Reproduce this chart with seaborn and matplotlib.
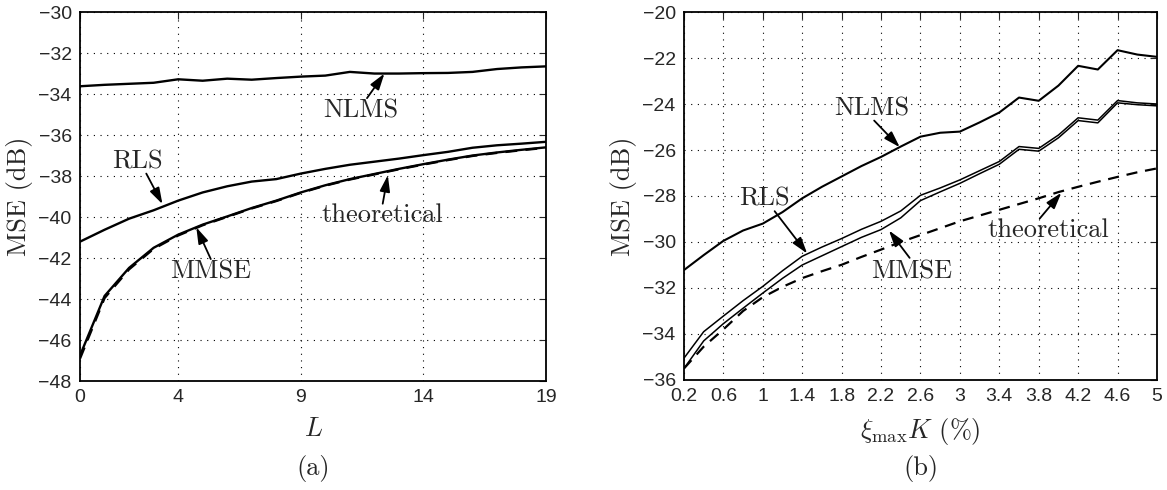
import matplotlib.pyplot as plt
import pandas as pd
import seaborn as sns

# Panel (a): MSE versus L
L_VALUES = [0, 1, 2, 3, 4, 5, 6, 7, 8, 9, 10, 11, 12, 13, 14, 15, 16, 17, 18, 19]
NLMS_A = [-33.62, -33.55, -33.5, -33.45, -33.28, -33.35, -33.25, -33.3, -33.22, -33.15,
          -33.1, -32.92, -33.0, -33.0, -32.98, -32.97, -32.92, -32.78, -32.7, -32.65]
RLS_A = [-41.2, -40.62, -40.08, -39.67, -39.2, -38.8, -38.5, -38.27, -38.15, -37.88,
         -37.65, -37.45, -37.3, -37.15, -36.98, -36.82, -36.62, -36.5, -36.42, -36.33]
MMSE_A = [-46.75, -43.85, -42.48, -41.5, -40.86, -40.37, -39.97, -39.56, -39.2, -38.8,
          -38.45, -38.15, -37.9, -37.65, -37.42, -37.2, -37.0, -36.85, -36.72, -36.6]
THEORY_A = [-46.9, -43.95, -42.55, -41.55, -40.9, -40.4, -39.99, -39.58, -39.22, -38.82,
            -38.47, -38.17, -37.92, -37.67, -37.44, -37.22, -37.02, -36.87, -36.74, -36.62]

# Panel (b): MSE versus xi_max K (%)
XI_VALUES = [0.2, 0.4, 0.6, 0.8, 1.0, 1.2, 1.4, 1.6, 1.8, 2.0, 2.2, 2.4, 2.6,
             2.8, 3.0, 3.2, 3.4, 3.6, 3.8, 4.0, 4.2, 4.4, 4.6, 4.8, 5.0]
NLMS_B = [-31.22, -30.57, -29.95, -29.5, -29.2, -28.7, -28.1, -27.6, -27.15, -26.7,
          -26.3, -25.85, -25.42, -25.25, -25.2, -24.8, -24.37, -23.72, -23.86, -23.2,
          -22.34, -22.5, -21.66, -21.85, -21.95]
RLS_B = [-35.05, -33.9, -33.22, -32.55, -31.93, -31.25, -30.62, -30.22, -29.85, -29.45,
         -29.1, -28.65, -27.97, -27.65, -27.3, -26.9, -26.5, -25.85, -25.93, -25.35,
         -24.6, -24.7, -23.85, -23.95, -24.0]
MMSE_B = [-35.5, -34.3, -33.55, -32.88, -32.22, -31.58, -31.0, -30.6, -30.2, -29.8,
          -29.46, -28.95, -28.2, -27.82, -27.45, -27.03, -26.62, -25.97, -26.05, -25.47,
          -24.72, -24.82, -23.95, -24.03, -24.08]
THEORY_B = [-35.5, -34.55, -33.8, -33.0, -32.4, -31.95, -31.57, -31.27, -30.99, -30.65,
            -30.33, -30.0, -29.7, -29.4, -29.1, -28.85, -28.6, -28.35, -28.1, -27.83,
            -27.6, -27.38, -27.17, -26.97, -26.8]

LEFT_XTICKS = [0, 4, 9, 14, 19]
LEFT_YTICKS = [-48, -46, -44, -42, -40, -38, -36, -34, -32, -30]
RIGHT_XTICKS = [0.2, 0.6, 1.0, 1.4, 1.8, 2.2, 2.6, 3.0, 3.4, 3.8, 4.2, 4.6, 5.0]
RIGHT_YTICKS = [-36, -34, -32, -30, -28, -26, -24, -22, -20]

# (label, text position, arrow start, arrow tip)
LEFT_NOTES = [
    ("NLMS", (11.46, -34.79), (11.7, -34.2), (12.41, -33.0)),
    ("RLS", (2.34, -37.31), (2.7, -37.88), (3.36, -39.37)),
    ("MMSE", (5.33, -42.67), (5.33, -42.05), (4.74, -40.5)),
    ("theoretical", (12.34, -39.91), (12.34, -39.35), (12.55, -37.96)),
]
RIGHT_NOTES = [
    ("NLMS", (2.11, -24.22), (2.13, -24.72), (2.39, -25.88)),
    ("RLS", (1.02, -28.12), (1.12, -28.66), (1.45, -30.5)),
    ("MMSE", (2.51, -31.29), (2.49, -30.69), (2.28, -29.5)),
    ("theoretical", (3.90, -29.49), (3.81, -28.98), (4.03, -27.86)),
]

SERIF = "cmr10"


def long_frame(x, series):
    records = []
    for method, values in series.items():
        records.extend(
            {"x": xv, "MSE": yv, "Method": method} for xv, yv in zip(x, values, strict=True)
        )
    return pd.DataFrame(records)


def draw_panel(ax, data, widths):
    for method, subset in data.groupby("Method", sort=False):
        style = (0, (5, 3.5)) if method == "theoretical" else "-"
        sns.lineplot(
            data=subset,
            x="x",
            y="MSE",
            color="black",
            linewidth=widths[method],
            linestyle=style,
            ax=ax,
        )


def decorate(ax, xticks, yticks, xlabel, notes):
    ax.set_xlim(xticks[0], xticks[-1])
    ax.set_ylim(yticks[0], yticks[-1])
    ax.set_xticks(xticks, [f"{t:g}" for t in xticks])
    ax.set_yticks(yticks)
    ax.grid(True, color="black", linestyle=(0, (1, 5)), linewidth=0.8)
    ax.tick_params(direction="in", top=True, right=True, length=5, width=0.8,
                   labelsize=14, pad=6)
    for spine in ax.spines.values():
        spine.set_visible(True)
        spine.set_linewidth(1.3)
        spine.set_color("black")
    ax.set_xlabel(xlabel, fontsize=19, family=SERIF, labelpad=8)
    ax.set_ylabel("MSE (dB)", fontsize=19, family=SERIF, labelpad=4)
    for text, pos, start, tip in notes:
        ax.text(*pos, text, fontsize=19, family=SERIF, ha="center", va="center")
        ax.annotate(
            "",
            xy=tip,
            xytext=start,
            arrowprops=dict(arrowstyle="-|>,head_length=0.7,head_width=0.22",
                            color="black", lw=1.3, shrinkA=0, shrinkB=0,
                            mutation_scale=14),
        )


def main():
    sns.set_style("white")
    plt.rcParams["font.family"] = ["Liberation Sans", "DejaVu Sans"]
    plt.rcParams["mathtext.fontset"] = "cm"

    left = long_frame(L_VALUES, {"NLMS": NLMS_A, "RLS": RLS_A, "MMSE": MMSE_A,
                                 "theoretical": THEORY_A})
    right = long_frame(XI_VALUES, {"NLMS": NLMS_B, "RLS": RLS_B, "MMSE": MMSE_B,
                                   "theoretical": THEORY_B})

    fig = plt.figure(figsize=(11.67, 4.9), dpi=100)
    ax_a = fig.add_axes([0.0686, 0.2224, 0.3993, 0.753])
    ax_b = fig.add_axes([0.5861, 0.2245, 0.4053, 0.751])

    draw_panel(ax_a, left, {"NLMS": 1.7, "RLS": 1.7, "MMSE": 1.7, "theoretical": 1.7})
    draw_panel(ax_b, right, {"NLMS": 1.5, "RLS": 1.1, "MMSE": 1.1, "theoretical": 1.6})

    decorate(ax_a, LEFT_XTICKS, LEFT_YTICKS, r"$L$", LEFT_NOTES)
    decorate(ax_b, RIGHT_XTICKS, RIGHT_YTICKS, r"$\xi_{\max}K$ (%)", RIGHT_NOTES)

    fig.text(0.268, 0.043, "(a)", fontsize=19, family=SERIF, ha="center", va="center")
    fig.text(0.789, 0.043, "(b)", fontsize=19, family=SERIF, ha="center", va="center")

    fig.savefig("out.png", dpi=100)


if __name__ == "__main__":
    main()
